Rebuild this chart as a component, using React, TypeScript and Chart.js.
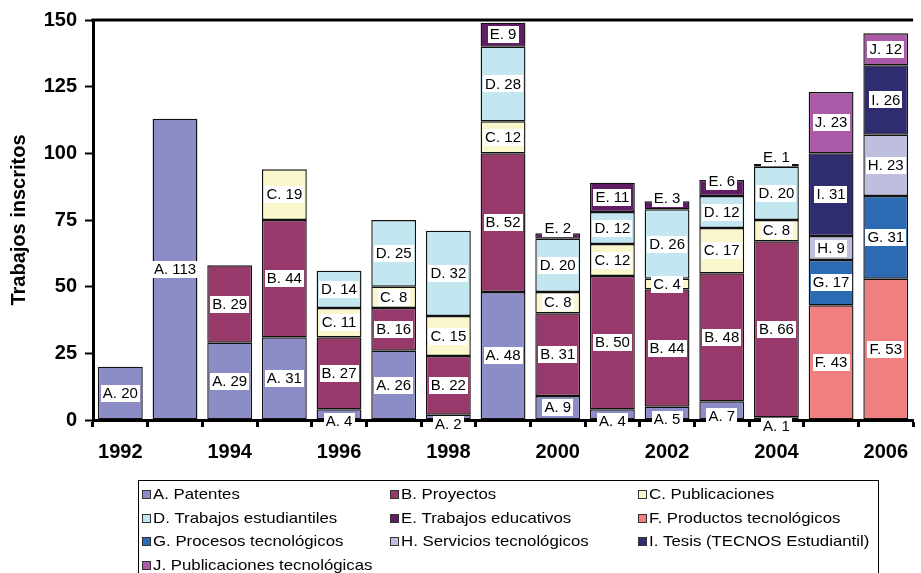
import React, { useEffect, useRef } from "react";
import { Chart, registerables } from "chart.js";

Chart.register(...registerables);

const years = ["1992","1993","1994","1995","1996","1997","1998","1999","2000","2001","2002","2003","2004","2005","2006"];

const seriesNames = [
  "A. Patentes",
  "B. Proyectos",
  "C. Publicaciones",
  "D. Trabajos estudiantiles",
  "E. Trabajos educativos",
  "F. Productos tecnológicos",
  "G. Procesos tecnológicos",
  "H. Servicios tecnológicos",
  "I. Tesis (TECNOS Estudiantil)",
  "J. Publicaciones tecnológicas",
];

const seriesColors = ["#8C8DC6","#973A6B","#F9F7CB","#C3E7F0","#611D63","#F08080","#2C6BB3","#BEBEDF","#302C70","#AA5AA6"];

const patentes =       [20, 113, 29, 31, 4, 26, 2, 48, 9, 4, 5, 7, 1, null, null];
const proyectos =      [null, null, 29, 44, 27, 16, 22, 52, 31, 50, 44, 48, 66, null, null];
const publicaciones =  [null, null, null, 19, 11, 8, 15, 12, 8, 12, 4, 17, 8, null, null];
const estudiantiles =  [null, null, null, null, 14, 25, 32, 28, 20, 12, 26, 12, 20, null, null];
const educativos =     [null, null, null, null, null, null, null, 9, 2, 11, 3, 6, 1, null, null];
const productos =      [null, null, null, null, null, null, null, null, null, null, null, null, null, 43, 53];
const procesos =       [null, null, null, null, null, null, null, null, null, null, null, null, null, 17, 31];
const servicios =      [null, null, null, null, null, null, null, null, null, null, null, null, null, 9, 23];
const tesis =          [null, null, null, null, null, null, null, null, null, null, null, null, null, 31, 26];
const pubTecnologicas =[null, null, null, null, null, null, null, null, null, null, null, null, null, 23, 12];

const seriesValues = [patentes, proyectos, publicaciones, estudiantiles, educativos, productos, procesos, servicios, tesis, pubTecnologicas];

const yTicks = [0, 25, 50, 75, 100, 125, 150];

const FONT = "Arial, 'Liberation Sans', sans-serif";

const labelPlugin = {
  id: "segLabels",
  afterDatasetsDraw(chart: any) {
    const ctx = chart.ctx;
    ctx.save();
    ctx.font = `15px ${FONT}`;
    ctx.textAlign = "center";
    ctx.textBaseline = "middle";
    const n = chart.data.datasets.length;
    for (let i = 0; i < n; i++) {
      const ds = chart.data.datasets[i];
      const meta = chart.getDatasetMeta(i);
      meta.data.forEach((el: any, j: number) => {
        const v = ds.data[j];
        if (v == null || v === 0) return;
        let isTop = true;
        for (let k = i + 1; k < n; k++) {
          const w = chart.data.datasets[k].data[j];
          if (w != null && w !== 0) { isTop = false; break; }
        }
        const top = el.y;
        const base = el.base;
        const h = base - top;
        let cy = (top + base) / 2;
        if (i === 0 && h < 20 && !isTop) cy = base + 8 - 0.6 * h;
        else if (isTop && i !== 0 && h <= 16) cy = Math.min(cy, top - 8 + 0.6 * h);
        const text = `${ds.label.charAt(0)}. ${v}`;
        const tw = ctx.measureText(text).width;
        ctx.fillStyle = "#ffffff";
        ctx.fillRect(Math.round(el.x - tw / 2 - 2), Math.round(cy - 8.5), Math.round(tw + 4), 17);
        ctx.fillStyle = "#000000";
        ctx.fillText(text, el.x, cy + 0.5);
      });
    }
    ctx.restore();
  },
};

const framePlugin = {
  id: "frame",
  afterDraw(chart: any) {
    const ctx = chart.ctx;
    const a = chart.chartArea;
    ctx.save();
    ctx.strokeStyle = "#000";
    ctx.lineWidth = 3;
    ctx.beginPath();
    ctx.moveTo(a.left - 1.5, a.top);
    ctx.lineTo(a.right, a.top);
    ctx.stroke();

    // legend
    const boxL = 138.5, boxT = 480.5, boxR = 878.5;
    ctx.lineWidth = 1;
    ctx.strokeStyle = "#000";
    ctx.strokeRect(boxL, boxT, boxR - boxL, 200);
    const cols = [142, 390, 638];
    const rows = [494, 518, 541, 565];
    ctx.font = `15px ${FONT}`;
    ctx.textBaseline = "middle";
    ctx.textAlign = "left";
    chart.data.datasets.forEach((ds: any, i: number) => {
      const cx = cols[i % 3];
      const ry = rows[Math.floor(i / 3)];
      ctx.fillStyle = ds.backgroundColor;
      ctx.fillRect(cx, ry - 4, 9, 9);
      ctx.strokeStyle = "#333";
      ctx.strokeRect(cx + 0.5, ry - 3.5, 8, 8);
      ctx.fillStyle = "#000";
      ctx.save();
      ctx.translate(cx + 11, ry + 1);
      ctx.scale(1.12, 1);
      ctx.fillText(ds.label, 0, 0);
      ctx.restore();
    });
    ctx.restore();
  },
};

export default function App() {
  const ref = useRef<HTMLCanvasElement | null>(null);
  useEffect(() => {
    document.body.style.margin = "0";
    const canvas = ref.current!;
    const chart = new Chart(canvas, {
      type: "bar",
      data: {
        labels: years,
        datasets: seriesNames.map((name, i) => ({
          label: name,
          data: seriesValues[i],
          backgroundColor: seriesColors[i],
          borderColor: "#111111",
          borderWidth: 1.4,
          borderSkipped: false,
          barPercentage: 0.82,
          categoryPercentage: 1,
        })),
      },
      options: {
        animation: false,
        responsive: false,
        devicePixelRatio: 1,
        layout: { padding: { top: 20, left: 0, right: 0, bottom: 0 } },
        plugins: { legend: { display: false }, tooltip: { enabled: false } },
        scales: {
          x: {
            stacked: true,
            grid: { offset: true, drawOnChartArea: false, drawTicks: true, tickLength: 7, tickColor: "#000", tickWidth: 3 },
            border: { display: true, color: "#000", width: 3 },
            ticks: {
              autoSkip: false,
              maxRotation: 0,
              color: "#000",
              padding: 13,
              font: { family: FONT, size: 20, weight: "bold" },
              callback: (_v: any, i: number) => (i % 2 === 0 ? years[i] : ""),
            },
            afterFit: (s: any) => { s.height = 153; },
          },
          y: {
            stacked: true,
            min: 0,
            max: 150,
            afterBuildTicks: (s: any) => { s.ticks = yTicks.map((v) => ({ value: v })); },
            grid: { drawOnChartArea: false, drawTicks: true, tickLength: 8, tickColor: "#000", tickWidth: 2 },
            border: { display: true, color: "#000", width: 3 },
            ticks: { color: "#000", padding: 8, font: { family: FONT, size: 20, weight: "bold" } },
            title: {
              display: true,
              text: "Trabajos inscritos",
              color: "#000",
              font: { family: FONT, size: 20, weight: "bold" },
              padding: { top: 7, bottom: 0 },
            },
            afterFit: (s: any) => { s.width = 93; },
          },
        },
      },
      plugins: [labelPlugin, framePlugin],
    });
    return () => chart.destroy();
  }, []);
  return <canvas ref={ref} width={921} height={573} style={{ display: "block" }} />;
}
